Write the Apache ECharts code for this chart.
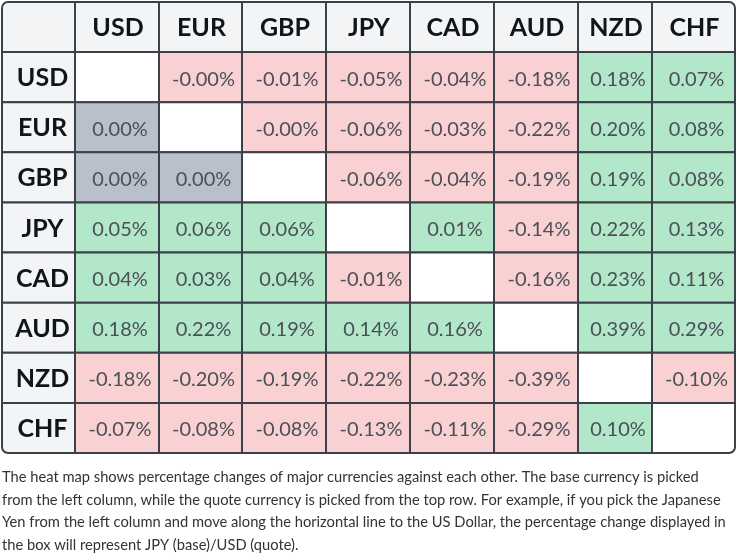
<!DOCTYPE html>
<html><head><meta charset="utf-8">
<script src="https://cdn.jsdelivr.net/npm/echarts@6/dist/echarts.min.js"></script>
<style>html,body{margin:0;padding:0;background:#fff;}#c{width:738px;height:554px;}</style>
</head><body><div id="c"></div>
<script>
// ---- data ----
const currencies = ['USD','EUR','GBP','JPY','CAD','AUD','NZD','CHF'];
// rows = base currency, columns = quote currency (percent change); null = same currency
// -0.001 stands for a tiny negative change shown as "-0.00%"
const rowUSD = [null, -0.001, -0.01, -0.05, -0.04, -0.18, 0.18, 0.07];
const rowEUR = [0.00, null, -0.001, -0.06, -0.03, -0.22, 0.20, 0.08];
const rowGBP = [0.00, 0.00, null, -0.06, -0.04, -0.19, 0.19, 0.08];
const rowJPY = [0.05, 0.06, 0.06, null, 0.01, -0.14, 0.22, 0.13];
const rowCAD = [0.04, 0.03, 0.04, -0.01, null, -0.16, 0.23, 0.11];
const rowAUD = [0.18, 0.22, 0.19, 0.14, 0.16, null, 0.39, 0.29];
const rowNZD = [-0.18, -0.20, -0.19, -0.22, -0.23, -0.39, null, -0.10];
const rowCHF = [-0.07, -0.08, -0.08, -0.13, -0.11, -0.29, 0.10, null];
const matrix = [rowUSD,rowEUR,rowGBP,rowJPY,rowCAD,rowAUD,rowNZD,rowCHF];
const description = [
  'The heat map shows percentage changes of major currencies against each other. The base currency is picked',
  'from the left column, while the quote currency is picked from the top row. For example, if you pick the Japanese',
  'Yen from the left column and move along the horizontal line to the US Dollar, the percentage change displayed in',
  'the box will represent JPY (base)/USD (quote).'
];

// ---- layout (relative column widths: header column + 8 currencies) ----
const colWeights = [73, 84, 83, 84, 84, 84, 84, 74, 83];
const edges = [0];
colWeights.forEach(w => edges.push(edges[edges.length-1] + w));
const rowCats = [''].concat(currencies);

const COL = {neg:'#f9d1d2', pos:'#b3e7c9', zero:'#b7c0cb', none:'#ffffff', head:'#f3f4f6', border:'#3c4149'};
const FONT = 'Lato, "Noto Sans", sans-serif';

const data = [];
// header row
for (let c = 0; c <= currencies.length; c++) data.push([c, 0, null, 'head', c === 0 ? '' : currencies[c-1]]);
// body
for (let r = 0; r < currencies.length; r++) {
  data.push([0, r+1, null, 'head', currencies[r]]);
  for (let c = 0; c < currencies.length; c++) {
    const v = matrix[r][c];
    data.push([c+1, r+1, v, 'cell', v === null ? '' : v.toFixed(2) + '%']);
  }
}
const N = currencies.length;

function renderItem(params, api) {
  const col = api.value(0), row = api.value(1);
  const item = data[params.dataIndex];
  const v = item[2], kind = item[3], label = item[4];
  const p0 = api.coord([edges[col], row]);
  const p1 = api.coord([edges[col+1], row]);
  const h = api.size([0, 1])[1];
  const x = p0[0], w = p1[0] - p0[0], y = p0[1] - h/2;
  let fill;
  if (kind === 'head') fill = COL.head;
  else if (v === null) fill = COL.none;
  else if (v < 0) fill = COL.neg;
  else if (v > 0) fill = COL.pos;
  else fill = COL.zero;
  let r = [0,0,0,0];
  const R = 6;
  if (col === 0 && row === 0) r = [R,0,0,0];
  if (col === N && row === 0) r = [0,R,0,0];
  if (col === N && row === N) r = [0,0,R,0];
  if (col === 0 && row === N) r = [0,0,0,R];
  const isHead = kind === 'head';
  return {
    type: 'group',
    children: [
      {type:'rect', shape:{x:x, y:y, width:w, height:h, r:r},
       style:{fill:fill, stroke:COL.border, lineWidth:2}},
      {type:'text', style:{
        x: x + w/2 + (isHead ? (col === 0 ? 4 : 1) : 3), y: y + h/2 + (isHead ? 1 : 2),
        text: label, align:'center', verticalAlign:'middle',
        fill: isHead ? '#111418' : '#4a4f58',
        font: (isHead ? 'bold 25px ' : '20px ') + FONT}}
    ]
  };
}

const graphics = description.map((t, i) => ({
  type:'text', left: 2, top: 470 + i*22.5,
  style:{text:t, fill:'#333', font:'14.7px ' + FONT}
}));

const chart = echarts.init(document.getElementById('c'), null, {renderer:'canvas'});
chart.setOption({
  animation:false,
  grid:{left:2, right:3, top:2, height:451},
  xAxis:{type:'value', min:0, max:edges[edges.length-1], show:false},
  yAxis:{type:'category', data:rowCats, inverse:true, show:false},
  series:[{type:'custom', renderItem:renderItem, data:data.map(d => [d[0], d[1]]), clip:false}],
  graphic: graphics
});
</script></body></html>
